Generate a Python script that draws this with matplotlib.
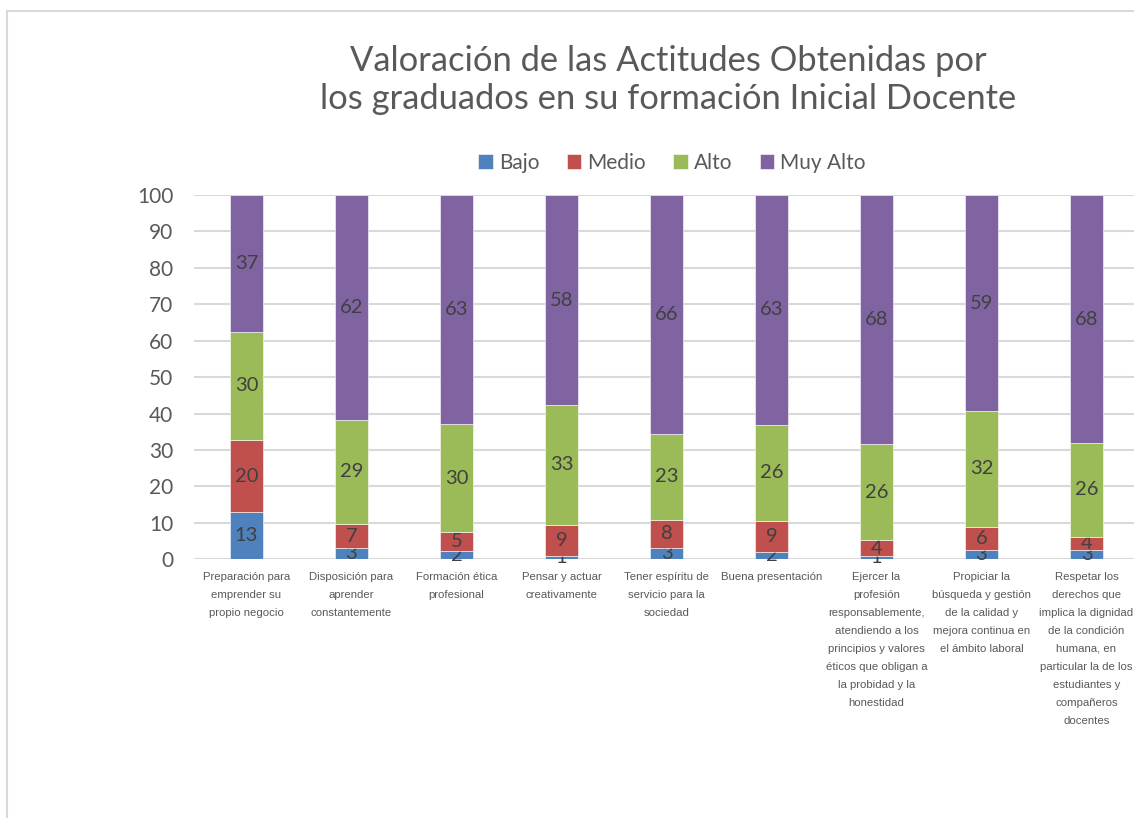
import matplotlib.pyplot as plt
from matplotlib.lines import Line2D
import numpy as np

# categories (x axis)
categorias = [
    "Preparación para\nemprender su\npropio negocio",
    "Disposición para\naprender\nconstantemente",
    "Formación ética\nprofesional",
    "Pensar y actuar\ncreativamente",
    "Tener espíritu de\nservicio para la\nsociedad",
    "Buena presentación",
    "Ejercer la\nprofesión\nresponsablemente,\natendiendo a los\nprincipios y valores\néticos que obligan a\nla probidad y la\nhonestidad",
    "Propiciar la\nbúsqueda y gestión\nde la calidad y\nmejora continua en\nel ámbito laboral",
    "Respetar los\nderechos que\nimplica la dignidad\nde la condición\nhumana, en\nparticular la de los\nestudiantes y\ncompañeros\ndocentes",
]

# percentages
bajo = [12.9, 3.0, 2.2, 0.9, 3.1, 1.9, 0.8, 2.6, 2.6]
medio = [19.9, 6.7, 5.3, 8.6, 7.8, 8.7, 4.4, 6.3, 3.6]
alto = [29.7, 28.6, 29.6, 32.8, 23.4, 26.4, 26.4, 31.8, 25.7]
muy_alto = [37.4, 61.7, 62.9, 57.7, 65.7, 63.0, 68.4, 59.3, 68.1]

series = ["Bajo", "Medio", "Alto", "Muy Alto"]
colores = ["#4F81BD", "#C0504D", "#9BBB59", "#8064A2"]

W, H = 1134, 818
fig = plt.figure(figsize=(W / 100, H / 100), dpi=100)

# chart frame (top and left visible)
fig.add_artist(Line2D([7 / W, 7 / W], [0, 1 - 11 / H], color="#D9D9D9", lw=1.5))
fig.add_artist(Line2D([7 / W, 1], [1 - 11 / H, 1 - 11 / H], color="#D9D9D9", lw=1.5))

# plot area runs a bit past the right edge, as in the reference
ax = fig.add_axes([194 / W, (H - 559.3) / H, 945 / W, 364.3 / H])

x = np.arange(len(categorias))
base = np.zeros(len(categorias))
for nombre, vals, col in zip(series, [bajo, medio, alto, muy_alto], colores):
    vals = np.array(vals)
    bars = ax.bar(x, vals, 0.31, bottom=base, color=col, label=nombre,
                  edgecolor="white", linewidth=0.4, zorder=3)
    ax.bar_label(bars, labels=[f"{v:.0f}" for v in vals], label_type="center",
                 fontsize=14.5, color="#404040", family="Lato")
    base += vals

ax.set_xlim(-0.5, len(categorias) - 0.5)
ax.set_ylim(0, 100)
ax.set_yticks(range(0, 101, 10))
ax.yaxis.grid(True, color="#D9D9D9", linewidth=1.5, zorder=0)
ax.set_axisbelow(True)
for s in ax.spines.values():
    s.set_visible(False)
ax.tick_params(axis="both", length=0)
ax.tick_params(axis="y", labelsize=15, labelcolor="#595959", pad=15)
for t in ax.get_yticklabels():
    t.set_family("Lato")

ax.set_xticks(x)
ax.set_xticklabels(categorias, fontsize=8.2, color="#595959",
                   family="Liberation Sans", linespacing=2.0)
ax.tick_params(axis="x", pad=9)

fig.text(668 / W, 1 - 80 / H,
         "Valoración de las Actitudes Obtenidas por\nlos graduados en su formación Inicial Docente",
         ha="center", va="center", fontsize=24.8, color="#595959", family="Lato",
         linespacing=1.25)

fig.legend(loc="center", bbox_to_anchor=(672 / W, 1 - 163 / H), ncol=4,
           frameon=False, prop={"family": "Lato", "size": 15},
           labelcolor="#595959", handlelength=0.7, handleheight=0.7,
           handletextpad=0.3, columnspacing=1.3)

fig.savefig("out.png", dpi=100)
